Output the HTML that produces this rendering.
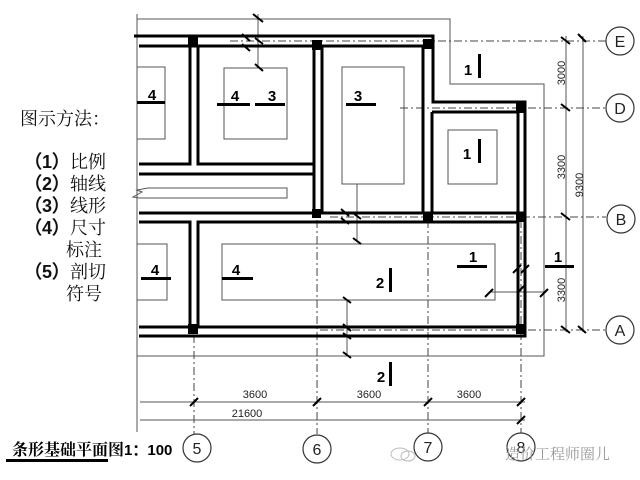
<!DOCTYPE html>
<html><head><meta charset="utf-8"><style>
html,body{margin:0;padding:0;background:#fff;width:640px;height:480px;overflow:hidden}
svg{display:block}
.t{font-family:"Liberation Sans","DejaVu Sans",sans-serif}
.c{font-family:"Liberation Serif","Noto Serif CJK SC","Noto Sans CJK SC",serif}
</style></head><body>
<svg width="640" height="480" viewBox="0 0 640 480" xmlns="http://www.w3.org/2000/svg">
<g stroke="#555" stroke-width="1" fill="none">
<polyline points="137,14 137,432"/>
<polyline points="137,19 450,19 450,84 544,84 544,356 137,356"/>
<rect x="137" y="67" width="28" height="72"/>
<rect x="224" y="68" width="63" height="71"/>
<rect x="342" y="67" width="62" height="117"/>
<rect x="448" y="130" width="49" height="54"/>
<rect x="222" y="244" width="273" height="56"/>
<rect x="137" y="244" width="30" height="56"/>
<path d="M148,188 L287,188 L287,198 L139,198 L133,197 L142,192 L137,190 Z"/>
<line x1="140" y1="402" x2="525" y2="402"/>
<line x1="140" y1="420" x2="525" y2="420"/>
<line x1="566" y1="36" x2="566" y2="332"/>
<line x1="583" y1="36" x2="583" y2="332"/>
<line x1="258" y1="14" x2="258" y2="68"/>
<line x1="357" y1="184" x2="357" y2="241"/>
<line x1="347" y1="300" x2="347" y2="356"/>
<line x1="490" y1="292" x2="545" y2="292"/>
</g>
<g stroke="#444" stroke-width="1" fill="none" stroke-dasharray="8,3,2,3">
<line x1="230" y1="41" x2="606" y2="41"/>
<line x1="400" y1="108" x2="606" y2="108"/>
<line x1="330" y1="217" x2="606" y2="217"/>
<line x1="320" y1="330" x2="606" y2="330"/>
<line x1="194" y1="335" x2="194" y2="434"/>
<line x1="317" y1="220" x2="317" y2="434"/>
<line x1="428" y1="220" x2="428" y2="434"/>
<line x1="521" y1="220" x2="521" y2="434"/>
</g>
<g stroke="#000" stroke-width="3" fill="none">
<polyline points="134,36 433,36 433,102 525,102 525,336 139,336"/>
<polyline points="139,46 423,46 423,212"/>
<polyline points="139,164 190,164 190,46"/>
<polyline points="198,46 198,164 313,164"/>
<line x1="139" y1="174" x2="313" y2="174"/>
<line x1="314" y1="46" x2="314" y2="212"/>
<line x1="322" y1="46" x2="322" y2="212"/>
<line x1="432" y1="112" x2="432" y2="212"/>
<line x1="432" y1="112" x2="518" y2="112"/>
<line x1="139" y1="213" x2="525" y2="213"/>
<polyline points="139,222 190,222 190,327 139,327"/>
<polyline points="198,327 198,222 518,222 518,327 198,327"/>
<line x1="518" y1="112" x2="518" y2="212"/>
</g>
<g fill="#000">
<rect x="188" y="37" width="10" height="10"/>
<rect x="312" y="40" width="10" height="10"/>
<rect x="423" y="39" width="10" height="10"/>
<rect x="516" y="103" width="10" height="10"/>
<rect x="312" y="209" width="9" height="9"/>
<rect x="423" y="212" width="10" height="10"/>
<rect x="516" y="212" width="10" height="10"/>
<rect x="188" y="324" width="10" height="10"/>
<rect x="516" y="324" width="10" height="10"/>
<rect x="137" y="101" width="28" height="3"/>
<rect x="217" y="103" width="33" height="3"/>
<rect x="255" y="103" width="30" height="3"/>
<rect x="346" y="103" width="30" height="3"/>
<rect x="478" y="54" width="3" height="24"/>
<rect x="478" y="139" width="3" height="24"/>
<rect x="457" y="265" width="30" height="3"/>
<rect x="389" y="268" width="3" height="24"/>
<rect x="389" y="362" width="3" height="24"/>
<rect x="545" y="265" width="29" height="3"/>
<rect x="141" y="277" width="30" height="3"/>
<rect x="222" y="277" width="31" height="3"/>
<rect x="6" y="459" width="102" height="3"/>
</g>
<g stroke="#000" stroke-width="2">
<path d="M253,14 l10,8 M242,34 l8,7 M242,44 l8,7 M255,38 l8,6 M255,64 l8,7 M561,37 l9,7 M578,34 l8,8 M561,104 l9,7 M561,213 l9,7 M561,326 l9,7 M578,326 l8,7"/>
<path d="M341,209 l8,7 M341,218 l8,6 M353,213 l8,6 M353,238 l8,6 M343,324 l8,7 M343,333 l8,6 M343,352 l8,6 M343,297 l8,6"/>
<path d="M190,406 l8,-8 M313,406 l8,-8 M424,406 l8,-8 M517,406 l8,-8 M517,424 l8,-8 M485,297 l8,-8 M540,297 l8,-8 M513,273 l8,-8 M521,273 l8,-8 M517,293 l8,-8"/>
</g>
<g stroke="#333" stroke-width="1.2" fill="#fff">
<circle cx="620" cy="41" r="14"/><circle cx="620" cy="108" r="14"/>
<circle cx="621" cy="219" r="14"/><circle cx="620" cy="330" r="14"/>
<circle cx="197" cy="448" r="14"/><circle cx="317" cy="449" r="14"/>
<circle cx="428" cy="447" r="14"/><circle cx="521" cy="447" r="14"/>
</g>
<g class="t" font-size="16" fill="#222" text-anchor="middle">
<text x="620" y="47">E</text><text x="620" y="114">D</text>
<text x="621" y="225">B</text><text x="620" y="336">A</text>
<text x="197" y="454">5</text><text x="317" y="455">6</text>
<text x="428" y="453">7</text><text x="521" y="453">8</text>
</g>
<g class="t" font-size="11" fill="#222" text-anchor="middle">
<text x="255" y="398">3600</text><text x="369" y="398">3600</text>
<text x="469" y="398">3600</text><text x="247" y="417">21600</text>
<text transform="translate(565,73) rotate(-90)">3000</text>
<text transform="translate(565,167) rotate(-90)">3300</text>
<text transform="translate(583,185) rotate(-90)">9300</text>
<text transform="translate(565,290) rotate(-90)">3300</text>
</g>
<g class="t" font-size="15" font-weight="bold" fill="#000" text-anchor="middle">
<text x="152" y="100">4</text><text x="235" y="101">4</text><text x="272" y="101">3</text>
<text x="358" y="101">3</text><text x="468" y="75">1</text><text x="467" y="159">1</text>
<text x="473" y="262">1</text><text x="380" y="288">2</text><text x="381" y="382">2</text>
<text x="558" y="262">1</text><text x="155" y="275">4</text><text x="236" y="275">4</text>
</g>
<g class="c" font-size="18" fill="#111">
<text x="20" y="125">图示方法：</text>
<text x="24" y="168"><tspan class="t" font-weight="bold">（1）</tspan>比例</text>
<text x="24" y="190"><tspan class="t" font-weight="bold">（2）</tspan>轴线</text>
<text x="24" y="212"><tspan class="t" font-weight="bold">（3）</tspan>线形</text>
<text x="24" y="234"><tspan class="t" font-weight="bold">（4）</tspan>尺寸</text>
<text x="66" y="256">标注</text>
<text x="24" y="278"><tspan class="t" font-weight="bold">（5）</tspan>剖切</text>
<text x="66" y="300">符号</text>
</g>
<text x="12" y="455" class="c" font-size="16" font-weight="bold" fill="#000">条形基础平面图<tspan class="t" font-size="15">1：100</tspan></text>
<text x="505" y="459" class="c" font-size="15" fill="#999">造价工程师圈儿</text>
<ellipse cx="400" cy="454" rx="9" ry="6" fill="none" stroke="#bbb"/>
<ellipse cx="408" cy="456" rx="7" ry="5" fill="none" stroke="#bbb"/>
</svg>
</body></html>
